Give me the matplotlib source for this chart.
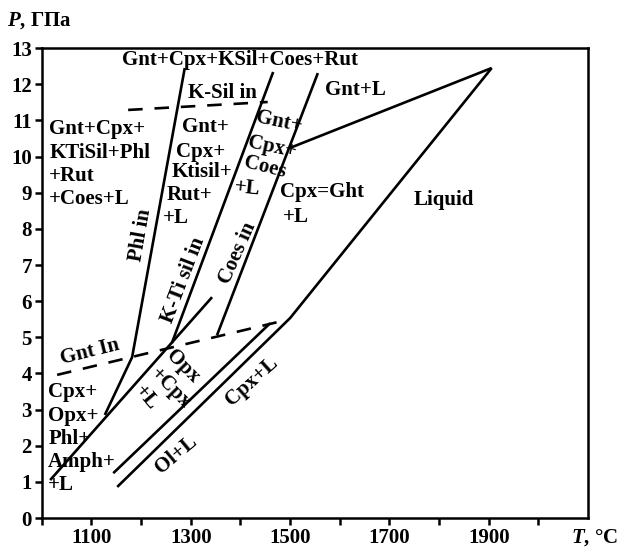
import matplotlib
matplotlib.use("Agg")
import matplotlib.pyplot as plt
from matplotlib.ticker import MultipleLocator

plt.rcParams["font.family"] = "Liberation Serif"
plt.rcParams["font.weight"] = "bold"
plt.rcParams["mathtext.fontset"] = "custom"
plt.rcParams["mathtext.it"] = "Liberation Serif:italic:bold"
plt.rcParams["mathtext.rm"] = "Liberation Serif:bold"

# --- phase boundaries (T in degC, P in GPa) ---
phl_T, phl_P = [1288, 1182, 1127], [12.45, 4.45, 2.85]
ktisil_T, ktisil_P = [1466, 1262], [12.34, 4.84]
opx_T, opx_P = [1017, 1343], [1.05, 6.11]
coes_T, coes_P = [1556, 1353], [12.31, 5.06]
gntl_T, gntl_P = [1500, 1906], [10.24, 12.45]
solidus_T, solidus_P = [1152, 1500, 1906], [0.86, 5.53, 12.45]
cpxl_T, cpxl_P = [1144, 1460], [1.24, 5.39]
# dashed reactions
ksil_T, ksil_P = [1174, 1455], [11.29, 11.51]
gntin_T, gntin_P = [1031, 1493], [3.96, 5.48]

x_major = [1100, 1300, 1500, 1700, 1900]
y_ticks = list(range(0, 14))

# field labels: (text, T, P, rotation, ha)
labels = [
    ("Gnt+Cpx+KSil+Coes+Rut", 1399, 12.67, 0, "center"),
    ("K-Sil in", 1363, 11.76, 0, "center"),
    ("Gnt+", 1282, 10.82, 0, "left"),
    ("Cpx+", 1270, 10.12, 0, "left"),
    ("Ktisil+", 1262, 9.57, 0, "left"),
    ("Rut+", 1252, 8.93, 0, "left"),
    ("+L", 1244, 8.30, 0, "left"),
    ("Gnt+", 1478, 10.95, -12, "center"),
    ("Cpx+", 1464, 10.26, -12, "center"),
    ("Coes", 1449, 9.71, -14, "center"),
    ("+L", 1413, 9.13, -6, "center"),
    ("Cpx=Ght", 1480, 9.02, 0, "left"),
    ("+L", 1486, 8.33, 0, "left"),
    ("Gnt+L", 1631, 11.84, 0, "center"),
    ("Liquid", 1809, 8.80, 0, "center"),
    ("Phl in", 1200, 7.83, 80, "center"),
    ("K-Ti sil in", 1286, 6.58, 69, "center"),
    ("Coes in", 1394, 7.33, 66, "center"),
    ("Opx", 1284, 4.20, -45, "center"),
    ("+Cpx", 1258, 3.60, -45, "center"),
    ("+L", 1210, 3.32, -50, "center"),
    ("Cpx+L", 1423, 3.79, 42, "center"),
    ("Ol+L", 1270, 1.74, 40, "center"),
    ("Gnt In", 1097, 4.59, 14, "center"),
]
block_hp = "Gnt+Cpx+\nKTiSil+Phl\n+Rut\n+Coes+L"
block_lp = "Cpx+\nOpx+\nPhl+\nAmph+\n+L"

fig = plt.figure(figsize=(6.19, 5.47), dpi=100)
ax = fig.add_axes([0.0674, 0.053, 0.8826, 0.859])

lw = 1.9
for T, P in [(phl_T, phl_P), (ktisil_T, ktisil_P), (opx_T, opx_P),
             (coes_T, coes_P), (gntl_T, gntl_P), (solidus_T, solidus_P),
             (cpxl_T, cpxl_P)]:
    ax.plot(T, P, color="black", lw=lw, solid_capstyle="butt")
for T, P in [(ksil_T, ksil_P), (gntin_T, gntin_P)]:
    ax.plot(T, P, color="black", lw=lw, linestyle=(0, (5.5, 4.5)))

fs = 15
for txt, T, P, rot, ha in labels:
    ax.text(T, P, txt, fontsize=fs, rotation=rot, ha=ha, va="center",
            rotation_mode="anchor")
ax.text(1015, 9.79, block_hp, fontsize=fs, ha="left", va="center",
        linespacing=1.22)
ax.text(1013, 2.19, block_lp, fontsize=fs, ha="left", va="center",
        linespacing=1.22)

ax.set_xlim(1000, 2100)
ax.set_ylim(0, 13)
ax.set_xticks(x_major)
ax.xaxis.set_minor_locator(MultipleLocator(200))
ax.set_yticks(y_ticks)
ax.tick_params(which="both", direction="out", length=5, width=1.8,
               labelsize=15, pad=2)
for s in ax.spines.values():
    s.set_linewidth(1.8)

fig.text(0.012, 0.963, "$\\mathit{P}$, ГПа", fontsize=15, va="center", ha="left")
fig.text(0.998, 0.018, "$\\mathit{T}$, °C", fontsize=15, va="center", ha="right")

fig.savefig("out.png", dpi=100)
